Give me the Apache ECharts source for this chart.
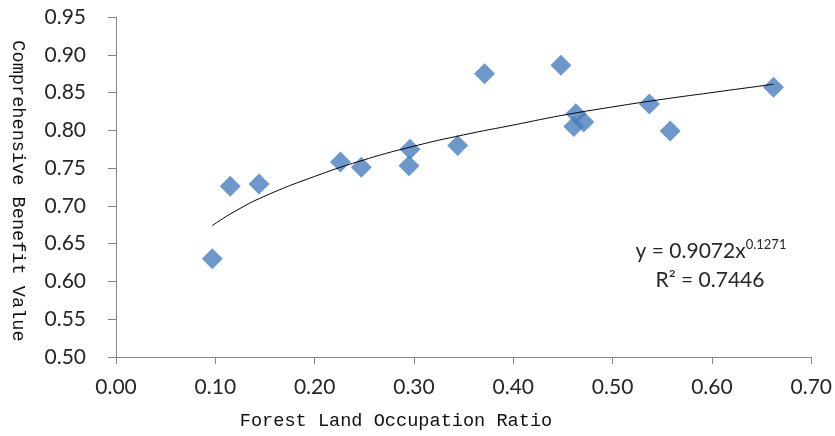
<!DOCTYPE html>
<html>
<head>
<meta charset="utf-8">
<script src="https://cdn.jsdelivr.net/npm/echarts@6/dist/echarts.min.js"></script>
<style>
  html, body { margin: 0; padding: 0; background: #fff; }
  #main { width: 835px; height: 436px; }
</style>
</head>
<body>
<div id="main"></div>
<script>
// scatter points: [ratio, benefit]
var ratioValues = [0.097, 0.115, 0.144, 0.226, 0.247, 0.296, 0.295, 0.344, 0.371, 0.448, 0.463, 0.461, 0.471, 0.537, 0.558, 0.662];
var benefitValues = [0.630, 0.726, 0.729, 0.758, 0.751, 0.775, 0.753, 0.780, 0.875, 0.886, 0.822, 0.805, 0.811, 0.835, 0.799, 0.857];

// trend line points
var trendX = [0.097, 0.12, 0.15, 0.20, 0.25, 0.30, 0.35, 0.40, 0.45, 0.50, 0.55, 0.60, 0.662];
var trendY = [0.674, 0.693, 0.713, 0.739, 0.761, 0.779, 0.794, 0.807, 0.820, 0.831, 0.841, 0.850, 0.861];

var xTicks = [0, 0.7, 0.1];
var yTicks = [0.5, 0.95, 0.05];

var scatterData = ratioValues.map(function (x, i) { return [x, benefitValues[i]]; });
var trendData = trendX.map(function (x, i) { return [x, trendY[i]]; });

var axisColor = '#868686';
var textColor = '#262626';
var labelFont = 'Lato, "Open Sans", sans-serif';
var titleFont = '"Liberation Mono", "DejaVu Sans Mono", monospace';

var myChart = echarts.init(document.getElementById('main'));
myChart.setOption({
    backgroundColor: '#ffffff',
    animation: false,
    grid: { left: 116, right: 20, top: 17, bottom: 79 },
    xAxis: {
        type: 'value',
        min: xTicks[0], max: xTicks[1], interval: xTicks[2],
        axisLine: { show: true, lineStyle: { color: axisColor } },
        axisTick: { show: true, length: 7, lineStyle: { color: axisColor } },
        splitLine: { show: false },
        axisLabel: {
            color: textColor, fontSize: 21, fontFamily: labelFont, margin: 20,
            formatter: function (v) { return v.toFixed(2); }
        }
    },
    yAxis: {
        type: 'value',
        min: yTicks[0], max: yTicks[1], interval: yTicks[2],
        axisLine: { show: true, lineStyle: { color: axisColor } },
        axisTick: { show: true, length: 8, lineStyle: { color: axisColor } },
        splitLine: { show: false },
        axisLabel: {
            color: textColor, fontSize: 21, fontFamily: labelFont, margin: 30,
            formatter: function (v) { return v.toFixed(2); }
        }
    },
    graphic: [
        {
            type: 'text', x: 396, y: 421,
            style: { text: 'Forest Land Occupation Ratio', fill: '#111', font: '18.6px ' + titleFont, textAlign: 'center', textVerticalAlign: 'middle' }
        },
        {
            type: 'text', x: 18, y: 191, rotation: -Math.PI / 2,
            style: { text: 'Comprehensive Benefit Value', fill: '#111', font: '18.6px ' + titleFont, textAlign: 'center', textVerticalAlign: 'middle' }
        },
        {
            type: 'text', x: 711, y: 251,
            style: {
                text: '{a|y = 0.9072x}{b|0.1271}',
                rich: {
                    a: { fontSize: 21, fontFamily: labelFont, fill: textColor },
                    b: { fontSize: 13, fontFamily: labelFont, fill: textColor, verticalAlign: 'top', padding: [0, 0, 12, 0] }
                },
                textAlign: 'center', textVerticalAlign: 'middle'
            }
        },
        {
            type: 'text', x: 710, y: 280,
            style: { text: 'R\u00b2 = 0.7446', fill: textColor, font: '21px ' + labelFont, textAlign: 'center', textVerticalAlign: 'middle' }
        }
    ],
    series: [
        {
            name: 'Points',
            type: 'scatter',
            symbol: 'diamond',
            symbolSize: 21,
            itemStyle: { color: '#4A7EBB' },
            data: scatterData,
            z: 2
        },
        {
            name: 'Trend',
            type: 'line',
            smooth: true,
            showSymbol: false,
            symbol: 'none',
            lineStyle: { color: '#000', width: 1 },
            data: trendData,
            z: 3
        }
    ]
});
</script>
</body>
</html>
